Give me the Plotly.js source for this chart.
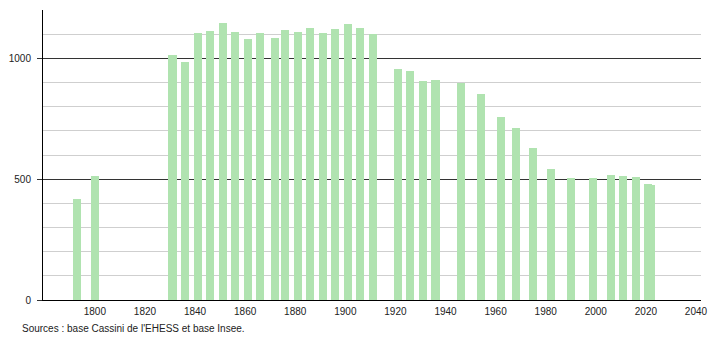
<!DOCTYPE html>
<html>
<head>
<meta charset="utf-8">
<script src="https://cdn.plot.ly/plotly-3.0.1.min.js"></script>
<style>
html,body{margin:0;padding:0;background:#fff;}
#chart{width:710px;height:340px;}
</style>
</head>
<body>
<div id="chart"></div>
<script>
const years = [1793, 1800, 1831, 1836, 1841, 1846, 1851, 1856, 1861, 1866, 1872, 1876, 1881, 1886, 1891, 1896, 1901, 1906, 1911,
  1921, 1926, 1931, 1936, 1946, 1954, 1962, 1968, 1975, 1982, 1990, 1999, 2006, 2011, 2016, 2021, 2022];
const population = [418, 512, 1015, 986, 1106, 1115, 1148, 1111, 1080, 1105, 1083, 1118, 1111, 1127, 1105, 1122, 1144, 1126, 1100,
  956, 948, 906, 910, 900, 852, 759, 710, 627, 544, 503, 504, 519, 512, 508, 478, 474];
const xTicks = [1800, 1820, 1840, 1860, 1880, 1900, 1920, 1940, 1960, 1980, 2000, 2020, 2040];
const yTicks = [0, 500, 1000];
const sourceText = "Sources : base Cassini de l'EHESS et base Insee.";

const trace = {
  type: 'bar',
  x: years,
  y: population,
  width: 3.2,
  marker: {color: '#b0e3b0', line: {width: 0}},
  hoverinfo: 'x+y'
};

const layout = {
  width: 710,
  height: 340,
  margin: {l: 43, r: 9, t: 10, b: 40},
  paper_bgcolor: '#ffffff',
  plot_bgcolor: '#ffffff',
  showlegend: false,
  font: {family: 'Liberation Sans, Arial, sans-serif', size: 10, color: '#222'},
  xaxis: {
    range: [1779.3, 2042],
    tickmode: 'array',
    tickvals: xTicks,
    ticktext: xTicks.map(String),
    showgrid: false,
    zeroline: false,
    showline: true,
    linecolor: '#000',
    linewidth: 1,
    ticks: '',
    ticklabelstandoff: 2,
    tickfont: {size: 10, color: '#222'},
    fixedrange: true
  },
  yaxis: {
    range: [0, 1200],
    tickmode: 'array',
    tickvals: yTicks,
    ticktext: yTicks.map(String),
    showgrid: true,
    gridcolor: '#333',
    gridwidth: 1,
    zeroline: false,
    showline: true,
    linecolor: '#000',
    linewidth: 1,
    ticks: 'outside',
    ticklen: 5,
    tickcolor: '#333',
    tickfont: {size: 10, color: '#222'},
    ticklabelstandoff: 4,
    minor: {dtick: 100, tick0: 0, showgrid: true, gridcolor: '#cfcfcf', gridwidth: 1, ticks: ''},
    fixedrange: true
  },
  bargap: 0,
  annotations: [{
    text: sourceText,
    xref: 'paper', yref: 'paper',
    x: -0.035, y: -0.0966,
    xanchor: 'left', yanchor: 'middle',
    showarrow: false,
    font: {family: 'Liberation Sans, Arial, sans-serif', size: 10, color: '#222'}
  }]
};

Plotly.newPlot('chart', [trace], layout, {staticPlot: true, displayModeBar: false});
</script>
</body>
</html>
